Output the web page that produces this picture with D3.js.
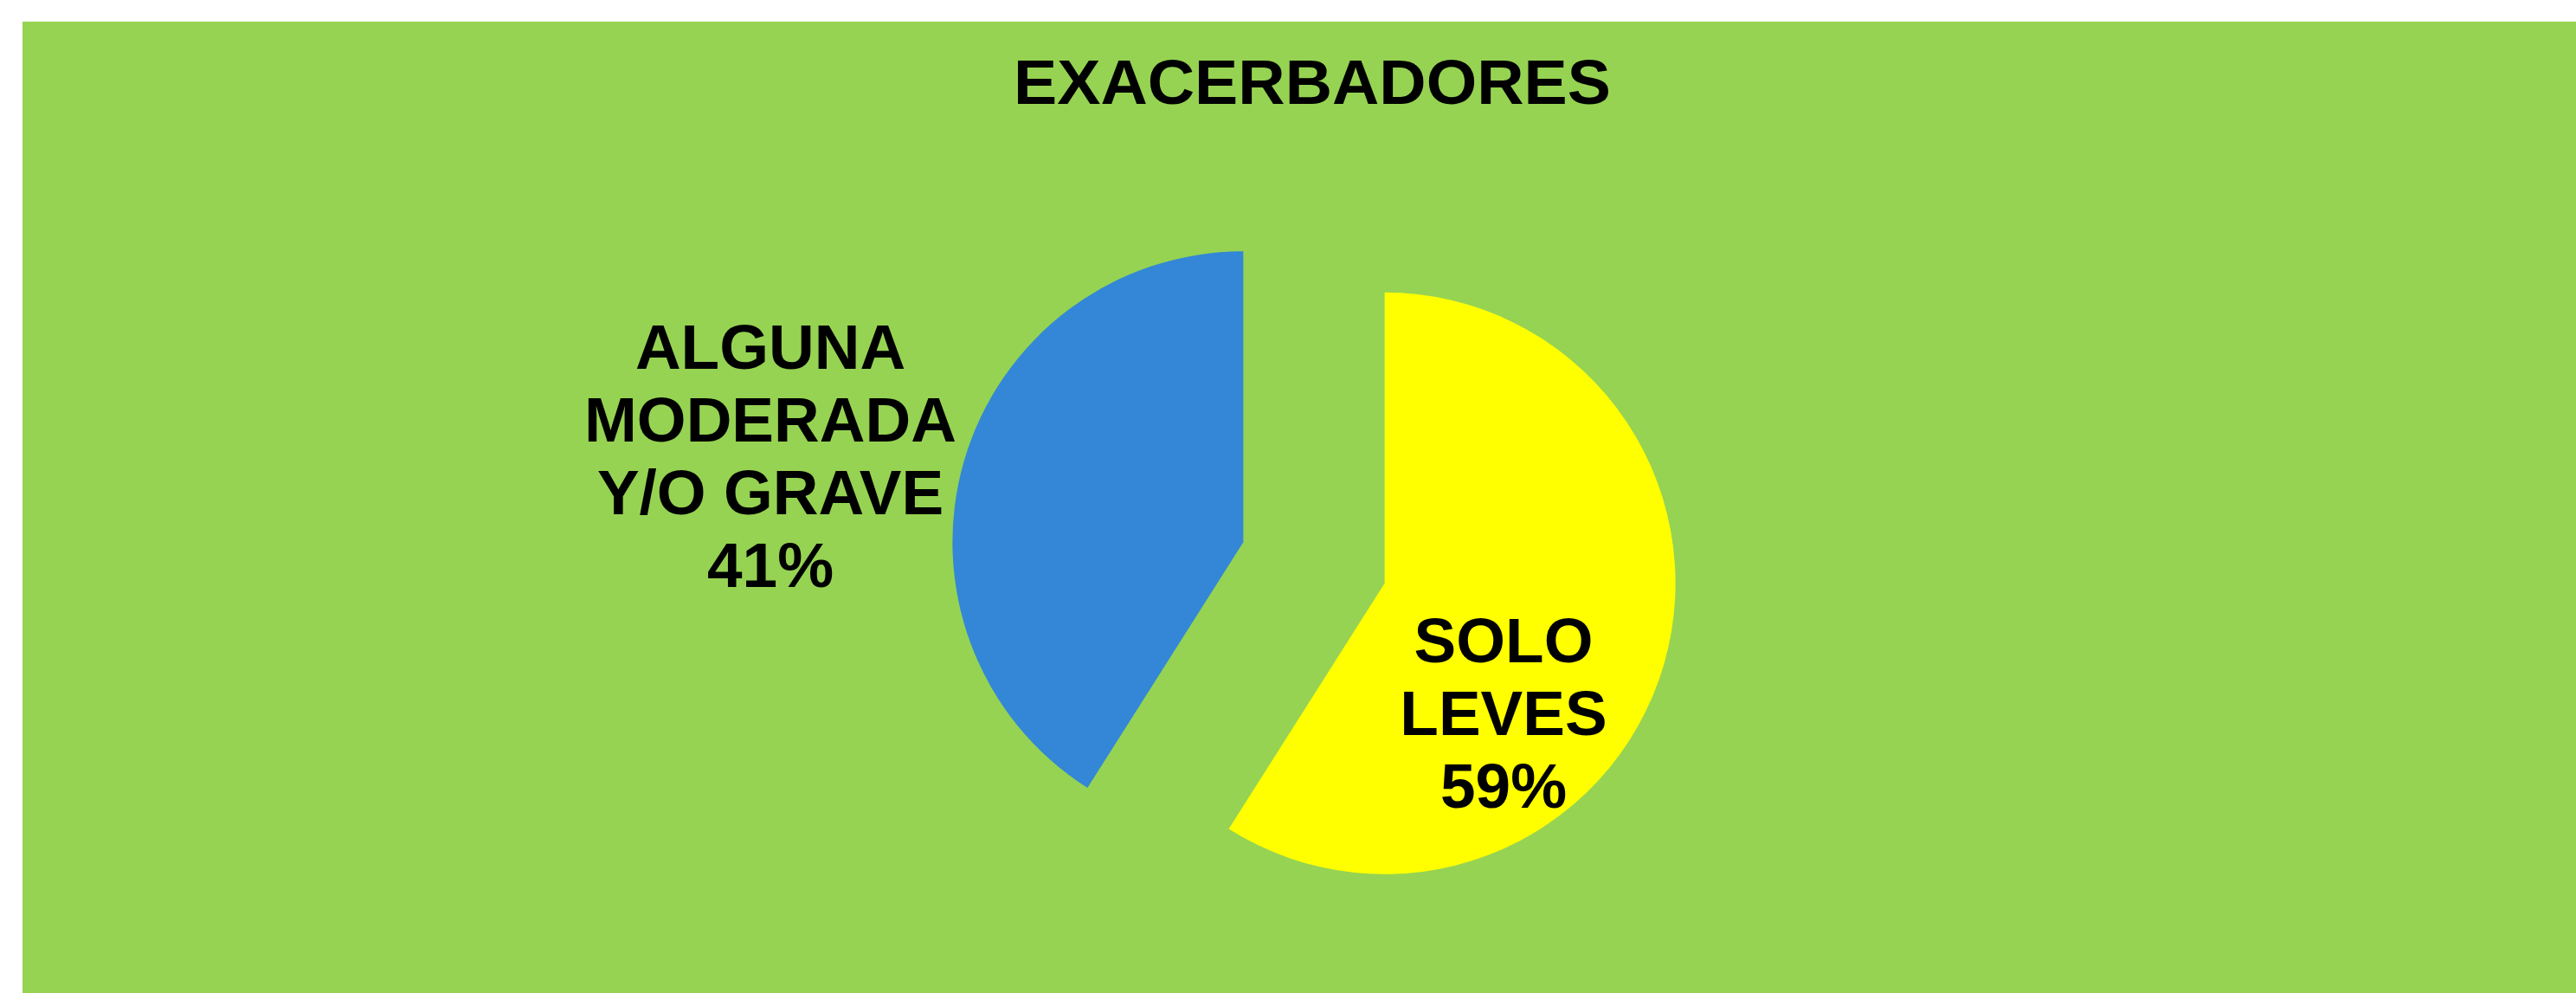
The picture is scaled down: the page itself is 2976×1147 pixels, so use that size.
<!DOCTYPE html>
<html>
<head>
<meta charset="utf-8">
<script src="https://cdn.jsdelivr.net/npm/d3@7/dist/d3.min.js"></script>
<style>
  html, body { margin: 0; padding: 0; background: #ffffff; }
  svg { display: block; }
  text { font-family: "Liberation Sans", Arial, sans-serif; font-weight: bold; fill: #000; }
</style>
</head>
<body>
<script>
const title = "EXACERBADORES";
const categories = ["SOLO LEVES", "ALGUNA MODERADA Y/O GRAVE"];
const values = [59, 41];
const labelLines = [["SOLO", "LEVES", "59%"], ["ALGUNA", "MODERADA", "Y/O GRAVE", "41%"]];
const colors = ["#ffff00", "#3387d6"];

const W = 2976, H = 1147;
const svg = d3.select("body").append("svg").attr("width", W).attr("height", H);

// chart area
svg.append("rect").attr("x", 26).attr("y", 25).attr("width", W - 26).attr("height", H - 25).attr("fill", "#96d352");

svg.append("text").attr("x", 1516).attr("y", 120).attr("text-anchor", "middle")
  .attr("font-size", 72).attr("textLength", 690).attr("lengthAdjust", "spacingAndGlyphs").text(title);

const cx = 1518, cy = 650, R = 336, explode = 85;
const pie = d3.pie().sort(null).value(d => d);
const arcs = pie(values);
const arc = d3.arc().innerRadius(0).outerRadius(R);

const g = svg.append("g").attr("transform", `translate(${cx},${cy})`);
g.selectAll("path").data(arcs).enter().append("path")
  .attr("d", arc)
  .attr("fill", (d, i) => colors[i])
  .attr("transform", d => {
    const a = (d.startAngle + d.endAngle) / 2;
    return `translate(${explode * Math.sin(a)},${-explode * Math.cos(a)})`;
  });

// data labels
const labelPos = [{x: 1737 - cx, y: 765 - cy}, {x: 890 - cx, y: 426 - cy}];
const lineH = 84;
labelLines.forEach((lines, i) => {
  const t = g.append("text").attr("text-anchor", "middle").attr("font-size", 73);
  lines.forEach((ln, k) => {
    t.append("tspan").attr("x", labelPos[i].x).attr("y", labelPos[i].y + k * lineH).text(ln);
  });
});
</script>
</body>
</html>
